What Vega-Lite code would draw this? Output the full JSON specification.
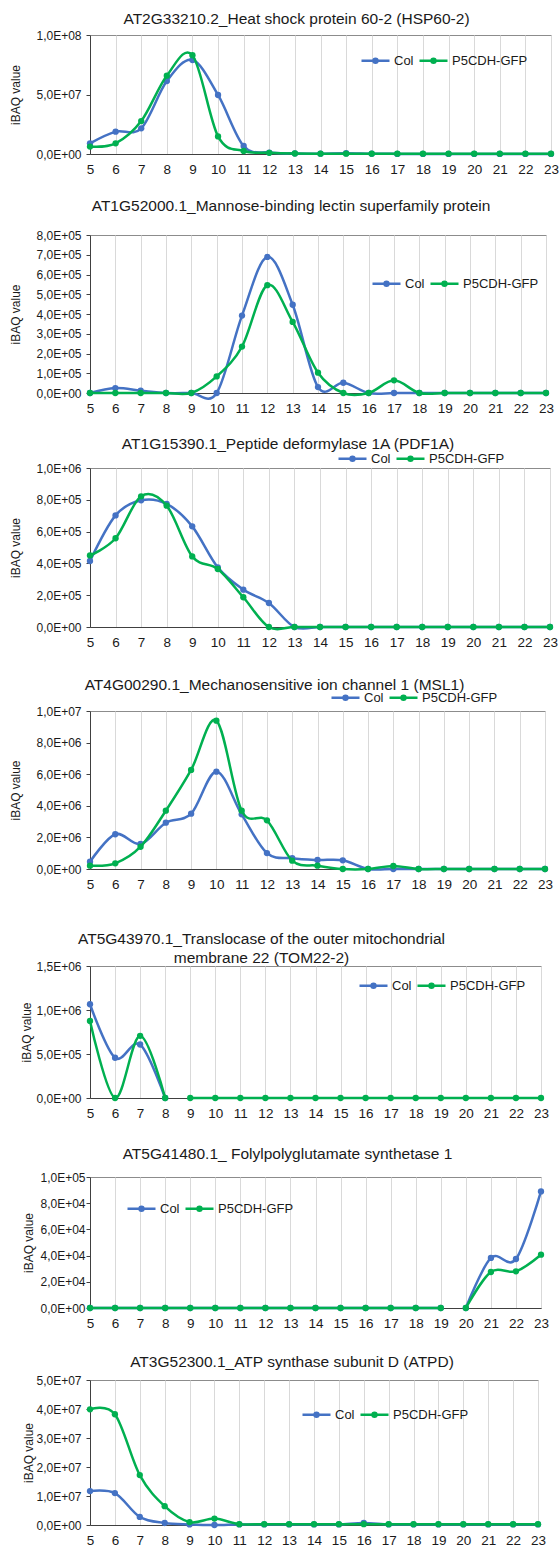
{
  "$schema": "https://vega.github.io/schema/vega-lite/v6.json",
  "padding": {"left": 9, "top": 11, "right": 0, "bottom": 0},
  "background": "white",
  "spacing": 21,
  "resolve": {"legend": {"color": "independent"}},
  "config": {
    "font": "Liberation Sans",
    "view": {"stroke": "#8c8c8c", "strokeWidth": 1},
    "title": {"fontSize": 15.5, "fontWeight": "normal", "color": "#1a1a1a", "anchor": "middle", "frame": "group", "baseline": "bottom", "font": "Liberation Sans"},
    "axis": {"labelFont": "Liberation Sans", "labelFontSize": 12, "labelColor": "#1a1a1a", "titleFont": "Liberation Sans", "titleFontSize": 12, "titleFontWeight": "normal", "titleColor": "#1a1a1a", "domainColor": "#404040", "tickColor": "#404040"},
    "axisX": {"grid": true, "gridColor": "#d9d9d9", "ticks": false, "labelPadding": 8, "labelFontSize": 13.5, "labelFlush": false, "labelOverlap": false},
    "axisY": {"grid": false, "tickSize": 4, "labelPadding": 5},
    "legend": {"orient": "none", "direction": "horizontal", "title": null, "labelFont": "Liberation Sans", "labelFontSize": 13, "labelColor": "#1a1a1a", "labelOffset": 3, "columnPadding": 0, "symbolSize": 784, "symbolStrokeWidth": 2.5, "symbolType": "M-1,0H1M0.14,0A0.14,0.14,0,1,1,-0.14,0A0.14,0.14,0,1,1,0.14,0Z"}
  },
  "datasets": {
    "p1": [
      {"x":5,"s":"Col","v":9000000},{"x":6,"s":"Col","v":18800000},{"x":7,"s":"Col","v":21600000},{"x":8,"s":"Col","v":61300000},{"x":9,"s":"Col","v":79000000},{"x":10,"s":"Col","v":49600000},{"x":11,"s":"Col","v":6700000},{"x":12,"s":"Col","v":1200000},{"x":13,"s":"Col","v":500000},{"x":14,"s":"Col","v":300000},{"x":15,"s":"Col","v":600000},{"x":16,"s":"Col","v":200000},{"x":17,"s":"Col","v":100000},{"x":18,"s":"Col","v":100000},{"x":19,"s":"Col","v":100000},{"x":20,"s":"Col","v":100000},{"x":21,"s":"Col","v":100000},{"x":22,"s":"Col","v":100000},{"x":23,"s":"Col","v":100000},
      {"x":5,"s":"P5CDH-GFP","v":6200000},{"x":6,"s":"P5CDH-GFP","v":9000000},{"x":7,"s":"P5CDH-GFP","v":27700000},{"x":8,"s":"P5CDH-GFP","v":65800000},{"x":9,"s":"P5CDH-GFP","v":83000000},{"x":10,"s":"P5CDH-GFP","v":14800000},{"x":11,"s":"P5CDH-GFP","v":2500000},{"x":12,"s":"P5CDH-GFP","v":1000000},{"x":13,"s":"P5CDH-GFP","v":400000},{"x":14,"s":"P5CDH-GFP","v":300000},{"x":15,"s":"P5CDH-GFP","v":300000},{"x":16,"s":"P5CDH-GFP","v":300000},{"x":17,"s":"P5CDH-GFP","v":300000},{"x":18,"s":"P5CDH-GFP","v":300000},{"x":19,"s":"P5CDH-GFP","v":300000},{"x":20,"s":"P5CDH-GFP","v":300000},{"x":21,"s":"P5CDH-GFP","v":300000},{"x":22,"s":"P5CDH-GFP","v":300000},{"x":23,"s":"P5CDH-GFP","v":300000}
    ],
    "p2": [
      {"x":5,"s":"Col","v":0},{"x":6,"s":"Col","v":25000},{"x":7,"s":"Col","v":12000},{"x":8,"s":"Col","v":0},{"x":9,"s":"Col","v":0},{"x":10,"s":"Col","v":0},{"x":11,"s":"Col","v":392000},{"x":12,"s":"Col","v":689000},{"x":13,"s":"Col","v":447000},{"x":14,"s":"Col","v":30000},{"x":15,"s":"Col","v":52000},{"x":16,"s":"Col","v":0},{"x":17,"s":"Col","v":0},{"x":18,"s":"Col","v":0},{"x":19,"s":"Col","v":0},{"x":20,"s":"Col","v":0},{"x":21,"s":"Col","v":0},{"x":22,"s":"Col","v":0},{"x":23,"s":"Col","v":0},
      {"x":5,"s":"P5CDH-GFP","v":0},{"x":6,"s":"P5CDH-GFP","v":0},{"x":7,"s":"P5CDH-GFP","v":0},{"x":8,"s":"P5CDH-GFP","v":0},{"x":9,"s":"P5CDH-GFP","v":0},{"x":10,"s":"P5CDH-GFP","v":84000},{"x":11,"s":"P5CDH-GFP","v":235000},{"x":12,"s":"P5CDH-GFP","v":546000},{"x":13,"s":"P5CDH-GFP","v":360000},{"x":14,"s":"P5CDH-GFP","v":103000},{"x":15,"s":"P5CDH-GFP","v":0},{"x":16,"s":"P5CDH-GFP","v":0},{"x":17,"s":"P5CDH-GFP","v":64000},{"x":18,"s":"P5CDH-GFP","v":0},{"x":19,"s":"P5CDH-GFP","v":0},{"x":20,"s":"P5CDH-GFP","v":0},{"x":21,"s":"P5CDH-GFP","v":0},{"x":22,"s":"P5CDH-GFP","v":0},{"x":23,"s":"P5CDH-GFP","v":0}
    ],
    "p3": [
      {"x":5,"s":"Col","v":415000},{"x":6,"s":"Col","v":702000},{"x":7,"s":"Col","v":797000},{"x":8,"s":"Col","v":774000},{"x":9,"s":"Col","v":633000},{"x":10,"s":"Col","v":375000},{"x":11,"s":"Col","v":235000},{"x":12,"s":"Col","v":151000},{"x":13,"s":"Col","v":0},{"x":14,"s":"Col","v":0},{"x":15,"s":"Col","v":0},{"x":16,"s":"Col","v":0},{"x":17,"s":"Col","v":0},{"x":18,"s":"Col","v":0},{"x":19,"s":"Col","v":0},{"x":20,"s":"Col","v":0},{"x":21,"s":"Col","v":0},{"x":22,"s":"Col","v":0},{"x":23,"s":"Col","v":0},
      {"x":5,"s":"P5CDH-GFP","v":450000},{"x":6,"s":"P5CDH-GFP","v":558000},{"x":7,"s":"P5CDH-GFP","v":822000},{"x":8,"s":"P5CDH-GFP","v":763000},{"x":9,"s":"P5CDH-GFP","v":444000},{"x":10,"s":"P5CDH-GFP","v":365000},{"x":11,"s":"P5CDH-GFP","v":187000},{"x":12,"s":"P5CDH-GFP","v":0},{"x":13,"s":"P5CDH-GFP","v":0},{"x":14,"s":"P5CDH-GFP","v":0},{"x":15,"s":"P5CDH-GFP","v":0},{"x":16,"s":"P5CDH-GFP","v":0},{"x":17,"s":"P5CDH-GFP","v":0},{"x":18,"s":"P5CDH-GFP","v":0},{"x":19,"s":"P5CDH-GFP","v":0},{"x":20,"s":"P5CDH-GFP","v":0},{"x":21,"s":"P5CDH-GFP","v":0},{"x":22,"s":"P5CDH-GFP","v":0},{"x":23,"s":"P5CDH-GFP","v":0}
    ],
    "p4": [
      {"x":5,"s":"Col","v":460000},{"x":6,"s":"Col","v":2200000},{"x":7,"s":"Col","v":1580000},{"x":8,"s":"Col","v":2930000},{"x":9,"s":"Col","v":3500000},{"x":10,"s":"Col","v":6160000},{"x":11,"s":"Col","v":3460000},{"x":12,"s":"Col","v":1010000},{"x":13,"s":"Col","v":680000},{"x":14,"s":"Col","v":570000},{"x":15,"s":"Col","v":550000},{"x":16,"s":"Col","v":0},{"x":17,"s":"Col","v":0},{"x":18,"s":"Col","v":0},{"x":19,"s":"Col","v":0},{"x":20,"s":"Col","v":0},{"x":21,"s":"Col","v":0},{"x":22,"s":"Col","v":0},{"x":23,"s":"Col","v":0},
      {"x":5,"s":"P5CDH-GFP","v":210000},{"x":6,"s":"P5CDH-GFP","v":360000},{"x":7,"s":"P5CDH-GFP","v":1410000},{"x":8,"s":"P5CDH-GFP","v":3690000},{"x":9,"s":"P5CDH-GFP","v":6270000},{"x":10,"s":"P5CDH-GFP","v":9390000},{"x":11,"s":"P5CDH-GFP","v":3690000},{"x":12,"s":"P5CDH-GFP","v":3080000},{"x":13,"s":"P5CDH-GFP","v":530000},{"x":14,"s":"P5CDH-GFP","v":210000},{"x":15,"s":"P5CDH-GFP","v":0},{"x":16,"s":"P5CDH-GFP","v":0},{"x":17,"s":"P5CDH-GFP","v":190000},{"x":18,"s":"P5CDH-GFP","v":0},{"x":19,"s":"P5CDH-GFP","v":0},{"x":20,"s":"P5CDH-GFP","v":0},{"x":21,"s":"P5CDH-GFP","v":0},{"x":22,"s":"P5CDH-GFP","v":0},{"x":23,"s":"P5CDH-GFP","v":0}
    ],
    "p5": [
      {"x":5,"s":"Col","v":1065000,"g":"a"},{"x":6,"s":"Col","v":457000,"g":"a"},{"x":7,"s":"Col","v":608000,"g":"a"},{"x":8,"s":"Col","v":0,"g":"a"},
      {"x":5,"s":"P5CDH-GFP","v":876000,"g":"a"},{"x":6,"s":"P5CDH-GFP","v":0,"g":"a"},{"x":7,"s":"P5CDH-GFP","v":706000,"g":"a"},{"x":8,"s":"P5CDH-GFP","v":0,"g":"a"},
      {"x":9,"s":"P5CDH-GFP","v":0,"g":"b"},{"x":10,"s":"P5CDH-GFP","v":0,"g":"b"},{"x":11,"s":"P5CDH-GFP","v":0,"g":"b"},{"x":12,"s":"P5CDH-GFP","v":0,"g":"b"},{"x":13,"s":"P5CDH-GFP","v":0,"g":"b"},{"x":14,"s":"P5CDH-GFP","v":0,"g":"b"},{"x":15,"s":"P5CDH-GFP","v":0,"g":"b"},{"x":16,"s":"P5CDH-GFP","v":0,"g":"b"},{"x":17,"s":"P5CDH-GFP","v":0,"g":"b"},{"x":18,"s":"P5CDH-GFP","v":0,"g":"b"},{"x":19,"s":"P5CDH-GFP","v":0,"g":"b"},{"x":20,"s":"P5CDH-GFP","v":0,"g":"b"},{"x":21,"s":"P5CDH-GFP","v":0,"g":"b"},{"x":22,"s":"P5CDH-GFP","v":0,"g":"b"},{"x":23,"s":"P5CDH-GFP","v":0,"g":"b"}
    ],
    "p6": [
      {"x":5,"s":"Col","v":0,"g":"a"},{"x":6,"s":"Col","v":0,"g":"a"},{"x":7,"s":"Col","v":0,"g":"a"},{"x":8,"s":"Col","v":0,"g":"a"},{"x":9,"s":"Col","v":0,"g":"a"},{"x":10,"s":"Col","v":0,"g":"a"},{"x":11,"s":"Col","v":0,"g":"a"},{"x":12,"s":"Col","v":0,"g":"a"},{"x":13,"s":"Col","v":0,"g":"a"},{"x":14,"s":"Col","v":0,"g":"a"},{"x":15,"s":"Col","v":0,"g":"a"},{"x":16,"s":"Col","v":0,"g":"a"},{"x":17,"s":"Col","v":0,"g":"a"},{"x":18,"s":"Col","v":0,"g":"a"},{"x":19,"s":"Col","v":0,"g":"a"},
      {"x":20,"s":"Col","v":0,"g":"b"},{"x":21,"s":"Col","v":38200,"g":"b"},{"x":22,"s":"Col","v":37400,"g":"b"},{"x":23,"s":"Col","v":89000,"g":"b"},
      {"x":5,"s":"P5CDH-GFP","v":0,"g":"a"},{"x":6,"s":"P5CDH-GFP","v":0,"g":"a"},{"x":7,"s":"P5CDH-GFP","v":0,"g":"a"},{"x":8,"s":"P5CDH-GFP","v":0,"g":"a"},{"x":9,"s":"P5CDH-GFP","v":0,"g":"a"},{"x":10,"s":"P5CDH-GFP","v":0,"g":"a"},{"x":11,"s":"P5CDH-GFP","v":0,"g":"a"},{"x":12,"s":"P5CDH-GFP","v":0,"g":"a"},{"x":13,"s":"P5CDH-GFP","v":0,"g":"a"},{"x":14,"s":"P5CDH-GFP","v":0,"g":"a"},{"x":15,"s":"P5CDH-GFP","v":0,"g":"a"},{"x":16,"s":"P5CDH-GFP","v":0,"g":"a"},{"x":17,"s":"P5CDH-GFP","v":0,"g":"a"},{"x":18,"s":"P5CDH-GFP","v":0,"g":"a"},{"x":19,"s":"P5CDH-GFP","v":0,"g":"a"},
      {"x":20,"s":"P5CDH-GFP","v":0,"g":"b"},{"x":21,"s":"P5CDH-GFP","v":27500,"g":"b"},{"x":22,"s":"P5CDH-GFP","v":28000,"g":"b"},{"x":23,"s":"P5CDH-GFP","v":40700,"g":"b"}
    ],
    "p7": [
      {"x":5,"s":"Col","v":11700000},{"x":6,"s":"Col","v":11000000},{"x":7,"s":"Col","v":2800000},{"x":8,"s":"Col","v":700000},{"x":9,"s":"Col","v":200000},{"x":10,"s":"Col","v":0},{"x":11,"s":"Col","v":200000},{"x":12,"s":"Col","v":200000},{"x":13,"s":"Col","v":200000},{"x":14,"s":"Col","v":200000},{"x":15,"s":"Col","v":200000},{"x":16,"s":"Col","v":700000},{"x":17,"s":"Col","v":200000},{"x":18,"s":"Col","v":200000},{"x":19,"s":"Col","v":200000},{"x":20,"s":"Col","v":200000},{"x":21,"s":"Col","v":200000},{"x":22,"s":"Col","v":200000},{"x":23,"s":"Col","v":200000},
      {"x":5,"s":"P5CDH-GFP","v":39900000},{"x":6,"s":"P5CDH-GFP","v":38200000},{"x":7,"s":"P5CDH-GFP","v":17200000},{"x":8,"s":"P5CDH-GFP","v":6500000},{"x":9,"s":"P5CDH-GFP","v":1000000},{"x":10,"s":"P5CDH-GFP","v":2200000},{"x":11,"s":"P5CDH-GFP","v":300000},{"x":12,"s":"P5CDH-GFP","v":300000},{"x":13,"s":"P5CDH-GFP","v":300000},{"x":14,"s":"P5CDH-GFP","v":300000},{"x":15,"s":"P5CDH-GFP","v":300000},{"x":16,"s":"P5CDH-GFP","v":300000},{"x":17,"s":"P5CDH-GFP","v":300000},{"x":18,"s":"P5CDH-GFP","v":300000},{"x":19,"s":"P5CDH-GFP","v":300000},{"x":20,"s":"P5CDH-GFP","v":300000},{"x":21,"s":"P5CDH-GFP","v":300000},{"x":22,"s":"P5CDH-GFP","v":300000},{"x":23,"s":"P5CDH-GFP","v":300000}
    ]
  },
  "vconcat": [
    {
      "width": 461, "height": 119,
      "title": {"text": "AT2G33210.2_Heat shock protein 60-2 (HSP60-2)", "dx": -24, "offset": 2},
      "data": {"name": "p1"},
      "encoding": {
        "x": {"field": "x", "type": "quantitative", "scale": {"domain": [5, 23], "nice": false, "zero": false}, "axis": {"title": null, "values": [5,6,7,8,9,10,11,12,13,14,15,16,17,18,19,20,21,22,23], "format": "d"}},
        "y": {"field": "v", "type": "quantitative", "scale": {"domain": [0, 100000000], "nice": false}, "axis": {"title": "iBAQ value", "titlePadding": 13, "labelPadding": 5, "values": [0, 50000000, 100000000], "labelExpr": "datum.value == 0 ? '0,0E+00' : replace(format(datum.value / pow(10, floor(log(datum.value)/LN10 + 1e-9)), '.1f'), '.', ',') + 'E+' + (floor(log(datum.value)/LN10 + 1e-9) < 10 ? '0' : '') + floor(log(datum.value)/LN10 + 1e-9)"}},
        "color": {"field": "s", "type": "nominal", "scale": {"domain": ["Col", "P5CDH-GFP"], "range": ["#4472C4", "#00B050"]}, "legend": {"legendX": 270, "legendY": 10, "encode": {"symbols": {"update": {"fill": {"scale": "color", "field": "value"}, "stroke": {"scale": "color", "field": "value"}}}}}},
        "detail": {"field": "g"}
      },
      "layer": [
        {"transform": [{"filter": "datum.s == 'Col'"}], "mark": {"type": "line", "interpolate": "cardinal", "strokeWidth": 2.5, "clip": false, "point": {"filled": true, "size": 40}}},
        {"transform": [{"filter": "datum.s == 'P5CDH-GFP'"}], "mark": {"type": "line", "interpolate": "cardinal", "strokeWidth": 2.5, "clip": false, "point": {"filled": true, "size": 40}}}
      ]
    },
    {
      "width": 456, "height": 158,
      "title": {"text": ["", "AT1G52000.1_Mannose-binding lectin superfamily protein"], "lineHeight": 1, "dx": -27, "offset": 15},
      "data": {"name": "p2"},
      "encoding": {
        "x": {"field": "x", "type": "quantitative", "scale": {"domain": [5, 23], "nice": false, "zero": false}, "axis": {"title": null, "values": [5,6,7,8,9,10,11,12,13,14,15,16,17,18,19,20,21,22,23], "format": "d"}},
        "y": {"field": "v", "type": "quantitative", "scale": {"domain": [0, 800000], "nice": false}, "axis": {"title": "iBAQ value", "titlePadding": 13, "labelPadding": 5, "values": [0,100000,200000,300000,400000,500000,600000,700000,800000], "labelExpr": "datum.value == 0 ? '0,0E+00' : replace(format(datum.value / pow(10, floor(log(datum.value)/LN10 + 1e-9)), '.1f'), '.', ',') + 'E+' + (floor(log(datum.value)/LN10 + 1e-9) < 10 ? '0' : '') + floor(log(datum.value)/LN10 + 1e-9)"}},
        "color": {"field": "s", "type": "nominal", "scale": {"domain": ["Col", "P5CDH-GFP"], "range": ["#4472C4", "#00B050"]}, "legend": {"legendX": 281, "legendY": 33, "encode": {"symbols": {"update": {"fill": {"scale": "color", "field": "value"}, "stroke": {"scale": "color", "field": "value"}}}}}},
        "detail": {"field": "g"}
      },
      "layer": [
        {"transform": [{"filter": "datum.s == 'Col'"}], "mark": {"type": "line", "interpolate": "cardinal", "strokeWidth": 2.5, "clip": false, "point": {"filled": true, "size": 40}}},
        {"transform": [{"filter": "datum.s == 'P5CDH-GFP'"}], "mark": {"type": "line", "interpolate": "cardinal", "strokeWidth": 2.5, "clip": false, "point": {"filled": true, "size": 40}}}
      ]
    },
    {
      "width": 460, "height": 159,
      "title": {"text": "AT1G15390.1_Peptide deformylase 1A (PDF1A)", "dx": -32, "offset": -9},
      "data": {"name": "p3"},
      "encoding": {
        "x": {"field": "x", "type": "quantitative", "scale": {"domain": [5, 23], "nice": false, "zero": false}, "axis": {"title": null, "values": [5,6,7,8,9,10,11,12,13,14,15,16,17,18,19,20,21,22,23], "format": "d"}},
        "y": {"field": "v", "type": "quantitative", "scale": {"domain": [0, 1000000], "nice": false}, "axis": {"title": "iBAQ value", "titlePadding": 13, "labelPadding": 5, "values": [0,200000,400000,600000,800000,1000000], "labelExpr": "datum.value == 0 ? '0,0E+00' : replace(format(datum.value / pow(10, floor(log(datum.value)/LN10 + 1e-9)), '.1f'), '.', ',') + 'E+' + (floor(log(datum.value)/LN10 + 1e-9) < 10 ? '0' : '') + floor(log(datum.value)/LN10 + 1e-9)"}},
        "color": {"field": "s", "type": "nominal", "scale": {"domain": ["Col", "P5CDH-GFP"], "range": ["#4472C4", "#00B050"]}, "legend": {"legendX": 247, "legendY": -25, "encode": {"symbols": {"update": {"fill": {"scale": "color", "field": "value"}, "stroke": {"scale": "color", "field": "value"}}}}}},
        "detail": {"field": "g"}
      },
      "layer": [
        {"transform": [{"filter": "datum.s == 'Col'"}], "mark": {"type": "line", "interpolate": "cardinal", "strokeWidth": 2.5, "clip": false, "point": {"filled": true, "size": 40}}},
        {"transform": [{"filter": "datum.s == 'P5CDH-GFP'"}], "mark": {"type": "line", "interpolate": "cardinal", "strokeWidth": 2.5, "clip": false, "point": {"filled": true, "size": 40}}}
      ]
    },
    {
      "width": 455, "height": 158,
      "title": {"text": ["", "AT4G00290.1_Mechanosensitive ion channel 1 (MSL1)"], "lineHeight": 7, "dx": -43, "offset": -11},
      "data": {"name": "p4"},
      "encoding": {
        "x": {"field": "x", "type": "quantitative", "scale": {"domain": [5, 23], "nice": false, "zero": false}, "axis": {"title": null, "values": [5,6,7,8,9,10,11,12,13,14,15,16,17,18,19,20,21,22,23], "format": "d"}},
        "y": {"field": "v", "type": "quantitative", "scale": {"domain": [0, 10000000], "nice": false}, "axis": {"title": "iBAQ value", "titlePadding": 13, "labelPadding": 5, "values": [0,2000000,4000000,6000000,8000000,10000000], "labelExpr": "datum.value == 0 ? '0,0E+00' : replace(format(datum.value / pow(10, floor(log(datum.value)/LN10 + 1e-9)), '.1f'), '.', ',') + 'E+' + (floor(log(datum.value)/LN10 + 1e-9) < 10 ? '0' : '') + floor(log(datum.value)/LN10 + 1e-9)"}},
        "color": {"field": "s", "type": "nominal", "scale": {"domain": ["Col", "P5CDH-GFP"], "range": ["#4472C4", "#00B050"]}, "legend": {"legendX": 240, "legendY": -29, "encode": {"symbols": {"update": {"fill": {"scale": "color", "field": "value"}, "stroke": {"scale": "color", "field": "value"}}}}}},
        "detail": {"field": "g"}
      },
      "layer": [
        {"transform": [{"filter": "datum.s == 'Col'"}], "mark": {"type": "line", "interpolate": "cardinal", "strokeWidth": 2.5, "clip": false, "point": {"filled": true, "size": 40}}},
        {"transform": [{"filter": "datum.s == 'P5CDH-GFP'"}], "mark": {"type": "line", "interpolate": "cardinal", "strokeWidth": 2.5, "clip": false, "point": {"filled": true, "size": 40}}}
      ]
    },
    {
      "width": 451, "height": 132,
      "title": {"text": ["", "AT5G43970.1_Translocase of the outer mitochondrial", "membrane 22 (TOM22-2)"], "lineHeight": 19, "dx": -54, "offset": -6},
      "data": {"name": "p5"},
      "encoding": {
        "x": {"field": "x", "type": "quantitative", "scale": {"domain": [5, 23], "nice": false, "zero": false}, "axis": {"title": null, "values": [5,6,7,8,9,10,11,12,13,14,15,16,17,18,19,20,21,22,23], "format": "d"}},
        "y": {"field": "v", "type": "quantitative", "scale": {"domain": [0, 1500000], "nice": false}, "axis": {"title": "iBAQ value", "titlePadding": 2, "labelPadding": 5, "values": [0,500000,1000000,1500000], "labelExpr": "datum.value == 0 ? '0,0E+00' : replace(format(datum.value / pow(10, floor(log(datum.value)/LN10 + 1e-9)), '.1f'), '.', ',') + 'E+' + (floor(log(datum.value)/LN10 + 1e-9) < 10 ? '0' : '') + floor(log(datum.value)/LN10 + 1e-9)"}},
        "color": {"field": "s", "type": "nominal", "scale": {"domain": ["Col", "P5CDH-GFP"], "range": ["#4472C4", "#00B050"]}, "legend": {"legendX": 268, "legendY": 4, "encode": {"symbols": {"update": {"fill": {"scale": "color", "field": "value"}, "stroke": {"scale": "color", "field": "value"}}}}}},
        "detail": {"field": "g"}
      },
      "layer": [
        {"transform": [{"filter": "datum.s == 'Col'"}], "mark": {"type": "line", "interpolate": "cardinal", "strokeWidth": 2.5, "clip": false, "point": {"filled": true, "size": 40}}},
        {"transform": [{"filter": "datum.s == 'P5CDH-GFP'"}], "mark": {"type": "line", "interpolate": "cardinal", "strokeWidth": 2.5, "clip": false, "point": {"filled": true, "size": 40}}}
      ]
    },
    {
      "width": 451, "height": 131,
      "title": {"text": ["", "AT5G41480.1_ Folylpolyglutamate synthetase 1"], "lineHeight": 5, "dx": -28, "offset": 9},
      "data": {"name": "p6"},
      "encoding": {
        "x": {"field": "x", "type": "quantitative", "scale": {"domain": [5, 23], "nice": false, "zero": false}, "axis": {"title": null, "values": [5,6,7,8,9,10,11,12,13,14,15,16,17,18,19,20,21,22,23], "format": "d"}},
        "y": {"field": "v", "type": "quantitative", "scale": {"domain": [0, 100000], "nice": false}, "axis": {"title": "iBAQ value", "titlePadding": 4, "labelPadding": 1, "values": [0,20000,40000,60000,80000,100000], "labelExpr": "datum.value == 0 ? '0,0E+00' : replace(format(datum.value / pow(10, floor(log(datum.value)/LN10 + 1e-9)), '.1f'), '.', ',') + 'E+' + (floor(log(datum.value)/LN10 + 1e-9) < 10 ? '0' : '') + floor(log(datum.value)/LN10 + 1e-9)"}},
        "color": {"field": "s", "type": "nominal", "scale": {"domain": ["Col", "P5CDH-GFP"], "range": ["#4472C4", "#00B050"]}, "legend": {"legendX": 36, "legendY": 16, "encode": {"symbols": {"update": {"fill": {"scale": "color", "field": "value"}, "stroke": {"scale": "color", "field": "value"}}}}}},
        "detail": {"field": "g"}
      },
      "layer": [
        {"transform": [{"filter": "datum.s == 'Col'"}], "mark": {"type": "line", "interpolate": "cardinal", "strokeWidth": 2.5, "clip": false, "point": {"filled": true, "size": 40}}},
        {"transform": [{"filter": "datum.s == 'P5CDH-GFP'"}], "mark": {"type": "line", "interpolate": "cardinal", "strokeWidth": 2.5, "clip": false, "point": {"filled": true, "size": 40}}}
      ]
    },
    {
      "width": 448, "height": 145,
      "title": {"text": ["", "AT3G52300.1_ATP synthase subunit D (ATPD)"], "lineHeight": 3, "dx": -22, "offset": 4},
      "data": {"name": "p7"},
      "encoding": {
        "x": {"field": "x", "type": "quantitative", "scale": {"domain": [5, 23], "nice": false, "zero": false}, "axis": {"title": null, "values": [5,6,7,8,9,10,11,12,13,14,15,16,17,18,19,20,21,22,23], "format": "d"}},
        "y": {"field": "v", "type": "quantitative", "scale": {"domain": [0, 50000000], "nice": false}, "axis": {"title": "iBAQ value", "titlePadding": 0, "labelPadding": 5, "values": [0,10000000,20000000,30000000,40000000,50000000], "labelExpr": "datum.value == 0 ? '0,0E+00' : replace(format(datum.value / pow(10, floor(log(datum.value)/LN10 + 1e-9)), '.1f'), '.', ',') + 'E+' + (floor(log(datum.value)/LN10 + 1e-9) < 10 ? '0' : '') + floor(log(datum.value)/LN10 + 1e-9)"}},
        "color": {"field": "s", "type": "nominal", "scale": {"domain": ["Col", "P5CDH-GFP"], "range": ["#4472C4", "#00B050"]}, "legend": {"legendX": 211, "legendY": 19, "encode": {"symbols": {"update": {"fill": {"scale": "color", "field": "value"}, "stroke": {"scale": "color", "field": "value"}}}}}},
        "detail": {"field": "g"}
      },
      "layer": [
        {"transform": [{"filter": "datum.s == 'Col'"}], "mark": {"type": "line", "interpolate": "cardinal", "strokeWidth": 2.5, "clip": false, "point": {"filled": true, "size": 40}}},
        {"transform": [{"filter": "datum.s == 'P5CDH-GFP'"}], "mark": {"type": "line", "interpolate": "cardinal", "strokeWidth": 2.5, "clip": false, "point": {"filled": true, "size": 40}}}
      ]
    }
  ]
}
